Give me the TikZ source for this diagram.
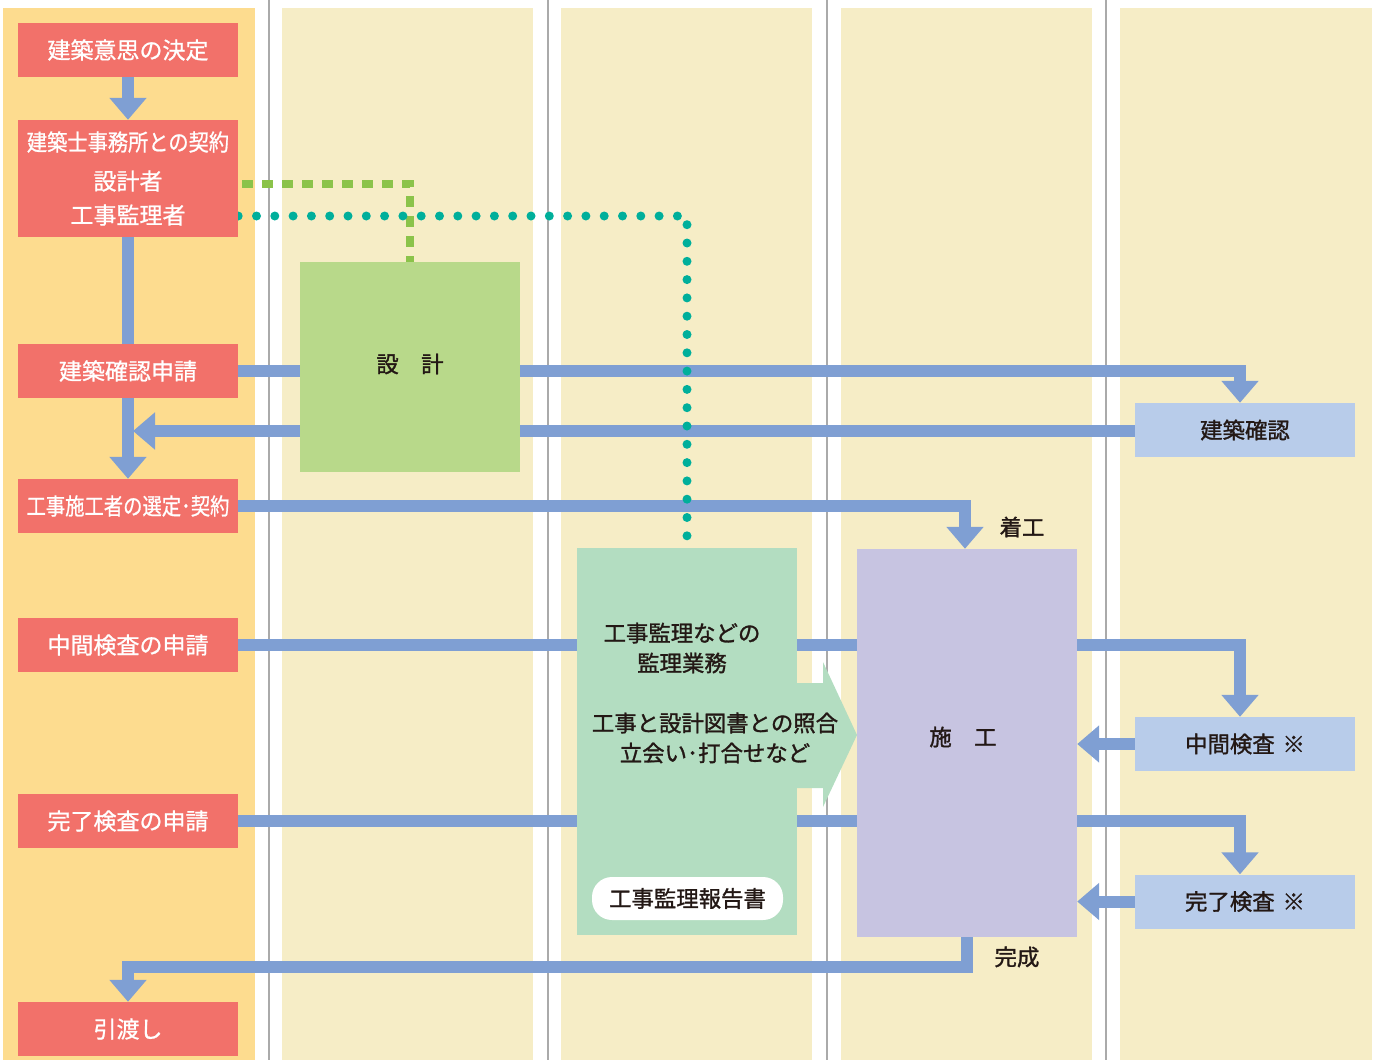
\documentclass[tikz,border=0pt]{standalone}
\usepackage{fontspec}
\usepackage{graphicx}
\newfontfamily\jpw{Noto Sans CJK JP}[FakeBold=0.9]
\newfontfamily\jpd{Noto Sans CJK JP}[FakeBold=1.3]
\usetikzlibrary{arrows.meta,calc}
\definecolor{colA}{HTML}{FDDC8F}
\definecolor{colB}{HTML}{F6EDC6}
\definecolor{sepc}{HTML}{AAAAAA}
\definecolor{redc}{HTML}{F2716A}
\definecolor{bluec}{HTML}{7F9FD3}
\definecolor{lblue}{HTML}{B8CCEA}
\definecolor{designc}{HTML}{B8D98A}
\definecolor{mintc}{HTML}{B3DDC1}
\definecolor{lavc}{HTML}{C7C4E1}
\definecolor{dashc}{HTML}{8BC34A}
\definecolor{dotc}{HTML}{00AF9B}
\definecolor{darkc}{HTML}{231815}
\pgfdeclarelayer{bg}
\pgfdeclarelayer{lines}
\pgfsetlayers{bg,lines,main}
\begin{document}
\begin{tikzpicture}[x=1pt,y=-1pt,
  whitefont/.style={font=\jpw\fontsize{23}{34}\selectfont},
  darkfont/.style={font=\jpd\fontsize{22.4}{30}\selectfont},
  redbox/.style={whitefont, fill=redc, text=white, minimum width=220pt, minimum height=54pt, inner sep=0pt, align=center},
  bluebox/.style={darkfont, fill=lblue, text=darkc, minimum width=220pt, minimum height=54pt, inner sep=0pt, align=center},
  bigbox/.style={minimum width=220pt, inner sep=0pt},
  darktext/.style={darkfont, text=darkc, inner sep=0pt, align=center},
  flow/.style={draw=bluec, line width=12pt, line join=miter},
  flowarrow/.style={flow, -{Triangle[width=36pt,length=22pt]}},
  greendash/.style={draw=dashc, line width=8pt, dash pattern=on 11pt off 9pt, dash phase=16pt},
  tealdots/.style={draw=dotc, line width=9pt, line cap=round, dash pattern=on 0pt off 18.3pt}
]
\useasboundingbox (0,0) rectangle (1378,1060);

% columns
\begin{pgfonlayer}{bg}
\fill[colA] (3,8) rectangle (255,1060);
\fill[colB] (282,8) rectangle (533,1060);
\fill[colB] (561,8) rectangle (812,1060);
\fill[colB] (841,8) rectangle (1092,1060);
\fill[colB] (1120,8) rectangle (1372,1060);
\foreach \x in {269,548,827,1106} \draw[sepc, line width=1.5pt] (\x,0) -- (\x,1060);
\end{pgfonlayer}

% left column boxes
\node[redbox] (n1) at (128,50) {建築意思の決定};
\node[redbox, minimum height=117pt] (n2) at (128,178.5) {\scalebox{0.88}[1]{建築士事務所との契約}\\[5pt]設計者\\工事監理者};
\node[redbox] (n3) at (128,371) {建築確認申請};
\node[redbox] (n4) at (128,506) {\scalebox{0.84}[1]{工事施工者の選定･契約}};
\node[redbox] (n5) at (128,645) {中間検査の申請};
\node[redbox] (n6) at (128,821) {完了検査の申請};
\node[redbox] (n7) at (128,1029) {引渡し};

% design
\node[bigbox, fill=designc, minimum height=210pt] (design) at (410,367) {};
\node[darktext] (designT) at (410,364) {設　計};

% supervision
\node[bigbox, fill=mintc, minimum height=387pt] (kanri) at (687,741.5) {};
\node[darktext] (kanriA) at (682,648) {工事監理などの\\監理業務};
\node[darktext] (kanriB) at (715,738) {工事と設計図書との照合\\立会い･打合せなど};
\node[darkfont, text=darkc, fill=white, rounded corners=20pt, minimum width=191pt, minimum height=43pt, inner sep=0pt] (report) at (687.5,898.5) {工事監理報告書};

% construction
\node[bigbox, fill=lavc, minimum height=388pt] (sekou) at (967,743) {};
\node[darktext] (sekouT) at (963,737) {施　工};

% right column
\node[bluebox] (kakunin) at (1245,430) {建築確認};
\node[bluebox] (chukan) at (1245,744) {中間検査\hspace{0.35em}※};
\node[bluebox] (kanryo) at (1245,901.5) {完了検査\hspace{0.35em}※};

% labels
\node[darktext] (chakko) at (1022,527) {着工};
\node[darktext] (kansei) at (1017,957) {完成};

\coordinate (tipA) at (133,431);

\begin{pgfonlayer}{lines}
% left vertical flow
\draw[flowarrow] (n1.south) -- (n2.north);
\draw[flow] (n2.south) -- (n3.north);
\draw[flowarrow] (n3.south) -- (n4.north);
% application -> confirmation
\draw[flowarrow] (n3.east) -| ([xshift=-5pt]kakunin.north);
\draw[flowarrow] (kakunin.west |- tipA) -- (tipA);
% contractor -> start
\draw[flowarrow] (n4.east) -| ([xshift=-2pt]sekou.north);
% interim
\draw[flow] (n5.east) -- (n5.east -| sekou.west);
\draw[flowarrow] (n5.east -| sekou.east) -| ([xshift=-5pt]chukan.north);
\draw[flowarrow] (chukan.west) -- (chukan.west -| sekou.east);
% completion
\draw[flow] (n6.east) -- (n6.east -| sekou.west);
\draw[flowarrow] (n6.east -| sekou.east) -| ([xshift=-5pt]kanryo.north);
\draw[flowarrow] (kanryo.west) -- (kanryo.west -| sekou.east);
% handover
\draw[flowarrow] (sekou.south) -- ++(0,30) -| (n7.north);
% big green arrow
\fill[mintc] (797,683) -- (823,683) -- (823,662) -- (857,735) -- (823,807) -- (823,788) -- (797,788) -- cycle;
% dashed / dotted
\draw[greendash] ([yshift=-5.5pt]n2.east) -| (design.north);
\draw[tealdots] ([yshift=-37.5pt]n2.east) -| (kanri.north);
\end{pgfonlayer}
\end{tikzpicture}
\end{document}
